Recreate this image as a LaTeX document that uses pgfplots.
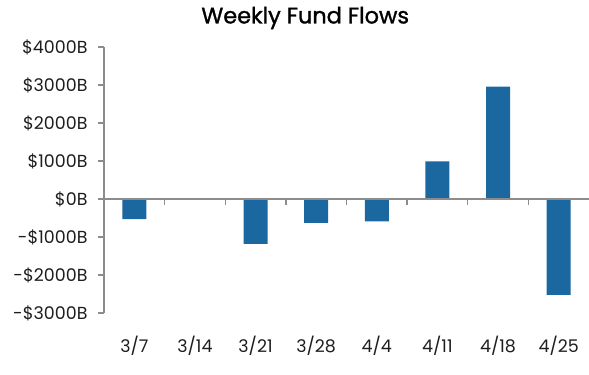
\documentclass[border=0pt]{standalone}
\usepackage{pgfplots}
\pgfplotsset{compat=1.18}
\usepackage{fontspec}
\setmainfont{Poppins}
\newfontfamily\titlefont{Poppins}[FakeBold=1.2]
\definecolor{barblue}{RGB}{27,104,160}
\definecolor{axgray}{RGB}{140,140,140}
\definecolor{txt}{RGB}{30,30,30}
\begin{document}
\begin{tikzpicture}
\path[use as bounding box] (-104bp,-62bp) rectangle (485bp,313bp);
\begin{axis}[
  name=ax,
  at={(0,0)}, anchor=south west,
  scale only axis,
  width=485bp, height=266bp,
  xmin=-0.5, xmax=7.5,
  ymin=-3000, ymax=4000,
  axis x line=bottom, axis y line=left,
  x axis line style={draw=none,-},
  y axis line style={-, draw=axgray, line width=1.4bp},
  xtick={0,...,7},
  xticklabels={3/7,3/14,3/21,3/28,4/4,4/11,4/18,4/25},
  x tick style={draw=none},
  ytick={-3000,-2000,...,4000},
  yticklabels={-\$3000B,-\$2000B,-\$1000B,\$0B,\$1000B,\$2000B,\$3000B,\$4000B},
  y tick style={draw=axgray, line width=1.4bp},
  tick align=outside,
  major tick length=6bp,
  ticklabel style={font=\fontsize{17.5}{19}\selectfont, text=txt},
  yticklabel style={xshift=-7bp},
  xticklabel style={yshift=-14bp},
  ybar, bar width=24bp,
  title={Weekly Fund Flows},
  title style={font=\titlefont\fontsize{22.5}{26}\selectfont, at={(rel axis cs:0.415,1)}, anchor=center, yshift=23bp},
  clip=false,
]
\addplot[fill=barblue, draw=none] coordinates {
 (0,-530) (1,15) (2,-1180) (3,-630) (4,-590) (5,990) (6,2960) (7,-2520)
};
\draw[axgray, line width=1.4bp] (axis cs:-0.5,0) -- (axis cs:7.5,0);
\pgfplotsinvokeforeach{0.5,1.5,2.5,3.5,4.5,5.5,6.5}{
  \draw[axgray, line width=1.4bp] (axis cs:#1,0) -- ([yshift=-6bp]axis cs:#1,0);
}
\end{axis}
\end{tikzpicture}
\end{document}
